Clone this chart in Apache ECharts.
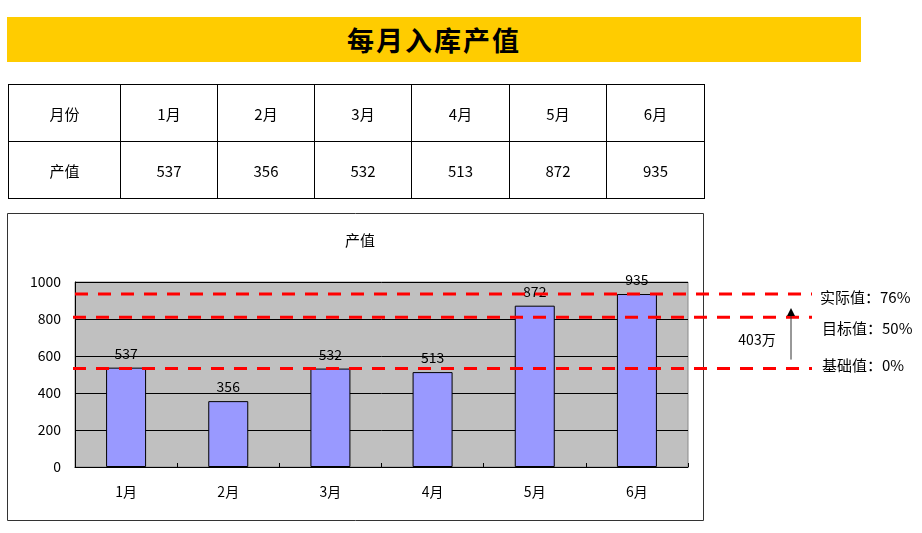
<!DOCTYPE html>
<html><head><meta charset="utf-8">
<script src="https://cdn.jsdelivr.net/npm/echarts@6/dist/echarts.min.js"></script>
<style>
html,body{margin:0;padding:0;background:#fff;width:922px;height:533px;overflow:hidden;}
#chart{position:absolute;left:0;top:0;width:922px;height:533px;}
#title{position:absolute;left:7px;top:17px;width:854px;height:45px;background:#FFCC00;font-family:"Noto Sans CJK SC";font-weight:bold;font-size:27px;line-height:45px;text-align:center;color:#000;letter-spacing:2px;z-index:2;}
#tbl{position:absolute;left:8px;top:84px;border-collapse:collapse;table-layout:fixed;width:697px;z-index:2;}
#tbl td{border:1px solid #000;height:56px;text-align:center;font-family:"Noto Sans CJK SC";font-size:15px;padding:0;color:#000;}
</style></head>
<body>
<div id="chart"></div>
<div id="title"></div>
<table id="tbl">
<colgroup><col style="width:112px"><col style="width:97px"><col style="width:97px"><col style="width:97px"><col style="width:98px"><col style="width:97px"><col style="width:98px"></colgroup>
<tbody><tr id="rowHead"></tr><tr id="rowVal"></tr></tbody>
</table>
<script>
const pageTitle = '每月入库产值';
const chartTitle = '产值';
const rowHeads = ['月份', '产值'];
const months = ['1月', '2月', '3月', '4月', '5月', '6月'];
const output = [537, 356, 532, 513, 872, 935];
const yTicks = [0, 200, 400, 600, 800, 1000];
const refLevels = [935, 810, 532];
const refLabels = ['实际值：76%', '目标值：50%', '基础值：0%'];
const gapLabel = '403万';

document.getElementById('title').textContent = pageTitle;
const rh = document.getElementById('rowHead');
const rv = document.getElementById('rowVal');
[rowHeads[0]].concat(months).forEach(t => { const td = document.createElement('td'); td.textContent = t; rh.appendChild(td); });
[rowHeads[1]].concat(output.map(String)).forEach(t => { const td = document.createElement('td'); td.textContent = t; rv.appendChild(td); });

const FONT = '"Noto Sans CJK SC", sans-serif';
const chart = echarts.init(document.getElementById('chart'));
const option = {
  animation: false,
  textStyle: { fontFamily: FONT },
  title: {
    text: chartTitle, left: 340, top: 228,
    textStyle: { fontSize: 15, fontWeight: 'normal', color: '#000', fontFamily: FONT }
  },
  grid: {
    left: 75, top: 282, width: 613, height: 185,
    show: true, backgroundColor: '#C0C0C0', borderColor: '#8a8a8a', borderWidth: 1
  },
  xAxis: {
    type: 'category', data: months,
    axisLine: { lineStyle: { color: '#000', width: 1 } },
    axisTick: { show: true, inside: true, length: 4, lineStyle: { color: '#000' } },
    axisLabel: { margin: 18, fontSize: 14, color: '#000', fontFamily: FONT }
  },
  yAxis: {
    type: 'value', min: yTicks[0], max: yTicks[yTicks.length - 1], interval: yTicks[1] - yTicks[0],
    axisLine: { show: true, lineStyle: { color: '#000' } },
    axisTick: { show: false },
    splitLine: { lineStyle: { color: '#000', width: 1 } },
    axisLabel: { margin: 14, fontSize: 14, color: '#000', fontFamily: FONT, formatter: v => String(v) }
  },
  series: [{
    type: 'bar', data: output, barWidth: 40,
    itemStyle: { color: '#9999FF', borderColor: '#000', borderWidth: 1 },
    label: { show: true, position: 'top', distance: 7, fontSize: 14, color: '#000', fontFamily: FONT }
  }]
};
chart.setOption(option);

const py = v => chart.convertToPixel({ yAxisIndex: 0 }, v);
const yA = py(refLevels[0]), yT = py(refLevels[1]), yB = py(refLevels[2]);
const dash = { stroke: '#FF0000', lineWidth: 3, lineDash: [13, 10] };
const graphics = [
  { type: 'rect', z: -1, silent: true, shape: { x: 7.5, y: 213.5, width: 696, height: 307 }, style: { fill: 'none', stroke: '#333', lineWidth: 1 } },
  { type: 'line', z: 50, shape: { x1: 75, y1: yA, x2: 812, y2: yA }, style: dash },
  { type: 'line', z: 50, shape: { x1: 73, y1: yT, x2: 812, y2: yT }, style: dash },
  { type: 'line', z: 50, shape: { x1: 73, y1: yB, x2: 812, y2: yB }, style: dash },
  { type: 'line', z: 50, shape: { x1: 791, y1: yB - 9, x2: 791, y2: yA + 20 }, style: { stroke: '#333', lineWidth: 1 } },
  { type: 'polygon', z: 50, shape: { points: [[791, yA + 14], [787, yA + 22], [795, yA + 22]] }, style: { fill: '#000' } },
  { type: 'text', z: 50, x: 757, y: (yA + yB) / 2 + 8, style: { text: gapLabel, fill: '#000', font: '14px ' + FONT, align: 'center', verticalAlign: 'middle' } },
  { type: 'text', z: 50, x: 820, y: yA + 3, style: { text: refLabels[0], fill: '#000', font: '15px ' + FONT, align: 'left', verticalAlign: 'middle' } },
  { type: 'text', z: 50, x: 822, y: yT + 11, style: { text: refLabels[1], fill: '#000', font: '15px ' + FONT, align: 'left', verticalAlign: 'middle' } },
  { type: 'text', z: 50, x: 822, y: yB - 3, style: { text: refLabels[2], fill: '#000', font: '15px ' + FONT, align: 'left', verticalAlign: 'middle' } }
];
chart.setOption({ graphic: graphics });
</script>
</body></html>
